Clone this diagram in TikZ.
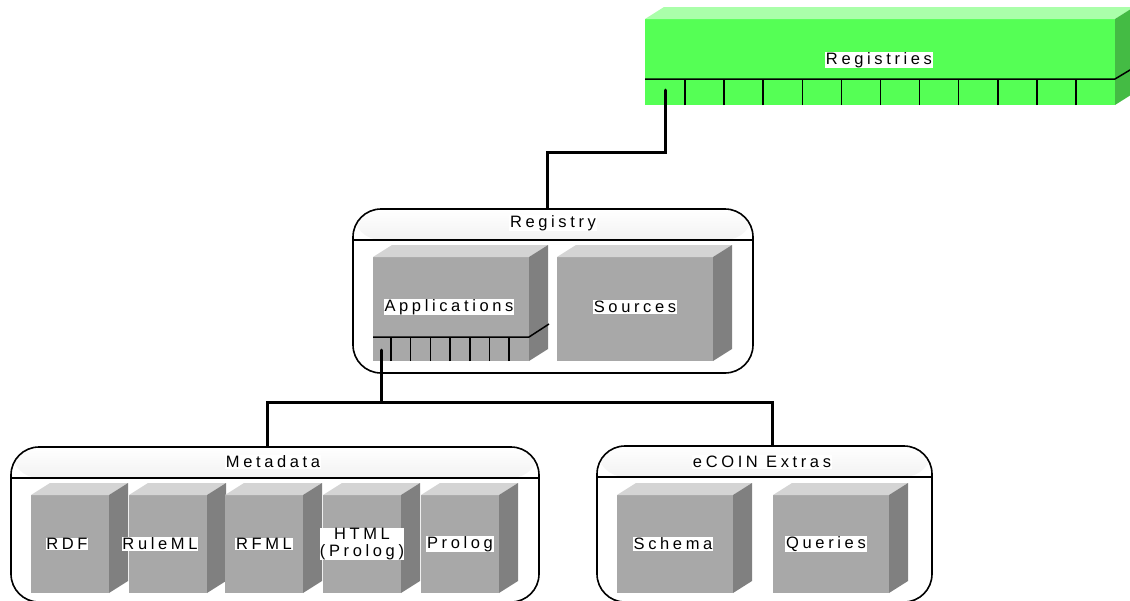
\documentclass[tikz,border=0pt]{standalone}
\usepackage{fontspec}
\setmainfont{Liberation Sans}[LetterSpace=22]
\definecolor{boxfront}{RGB}{168,168,168}
\definecolor{boxtop}{RGB}{212,212,212}
\definecolor{boxside}{RGB}{128,128,128}
\definecolor{regfront}{RGB}{85,255,85}
\definecolor{regtop}{RGB}{170,255,170}
\definecolor{regside}{RGB}{68,187,68}

\newcommand{\solid}[5]{%
  \node[face,fill=#5front,minimum width=#3pt,minimum height=#4pt] (#1) at #2 {};
  \fill[#5top] (#1.north west) -- ++(19,-12) -- ++(#3,0) -- (#1.north east) -- cycle;
  \fill[#5side] (#1.north east) -- ++(19,-12) -- ++(0,#4) -- (#1.south east) -- cycle;
}

\begin{document}
\begin{tikzpicture}[x=1pt,y=-1pt,font=\fontsize{16.5}{17}\selectfont,
    face/.style={anchor=north west,inner sep=0pt,outer sep=0pt},
    tag/.style={fill=white,inner sep=0.8pt,align=center},
    portline/.style={line width=1.5pt},
    link/.style={line width=3pt,line cap=round},
    group/.style={draw,line width=1.6pt,rounded corners=28pt,inner sep=0pt,
      path picture={
        \shade[top color=white,bottom color=black!26]
          (path picture bounding box.north west) rectangle
          ([yshift=-31pt]path picture bounding box.north east);
        \draw[line width=1.6pt]
          ([yshift=-31pt]path picture bounding box.north west) --
          ([yshift=-31pt]path picture bounding box.north east);}}]
  \useasboundingbox (0,0) rectangle (1130,600);

  \solid{registries}{(645,19)}{470}{86}{reg}
  \node[tag] (registries-title) at (879,60) {Registries};
  \draw[portline] ([yshift=26pt]registries.south west) -- ([yshift=26pt]registries.south east) -- ++(20,-12);
  \foreach \i in {0,...,10}
    \draw[portline] ([xshift={40+\i*39.1}]registries.south west) -- ++(0,-26);

  \node[group,minimum width=400pt,minimum height=164pt] (registry) at (553,291) {};
  \node[tag] (registry-title) at (553,223) {Registry};
  \solid{apps}{(373,257)}{156}{104}{box}
  \solid{sources}{(557,257)}{156}{104}{box}
  \node[tag] (apps-label) at (449,307) {Applications};
  \node[tag] (sources-label) at (635,307) {Sources};
  \draw[portline] ([yshift=24pt]apps.south west) -- ([yshift=24pt]apps.south east) -- ++(20,-13);
  \foreach \i in {0,...,6}
    \draw[portline] ([xshift={18+\i*19.7}]apps.south west) -- ++(0,-24);

  \node[group,minimum width=528pt,minimum height=155pt] (metadata) at (275,524.5) {};
  \node[tag] (metadata-title) at (273,462) {Metadata};
  \solid{rdf}{(31,495)}{78}{98}{box}
  \solid{ruleml}{(129,495)}{78}{98}{box}
  \solid{rfml}{(225,495)}{78}{98}{box}
  \solid{html}{(323,495)}{78}{98}{box}
  \solid{prolog}{(421,495)}{78}{98}{box}
  \node[tag] (rdf-label) at ([xshift=-3pt]rdf.center) {RDF};
  \node[tag] (ruleml-label) at ([xshift=-8pt]ruleml.center) {RuleML};
  \node[tag] (rfml-label) at (rfml.center) {RFML};
  \node[tag,inner sep=0.2pt] (html-label) at (html.center) {HTML\\(Prolog)};
  \node[tag] (prolog-label) at (prolog.center) {Prolog};

  \node[group,minimum width=335pt,minimum height=156pt] (extras) at (764.5,524) {};
  \node[tag] (extras-title) at (762,462) {eCOIN Extras};
  \solid{schema}{(617,495)}{116}{98}{box}
  \solid{queries}{(773,495)}{116}{98}{box}
  \node[tag] (schema-label) at ([xshift=-2pt]schema.center) {Schema};
  \node[tag] (queries-label) at ([xshift=-5pt]queries.center) {Queries};

  \coordinate (registries-port) at (665,90);
  \coordinate (registry-bend) at (547,152);
  \draw[link] (registries-port) |- (registry-bend) -- (registry-bend |- registry.north);

  \coordinate (apps-port) at (381,350);
  \coordinate (bus) at (381,402);
  \draw[link] (apps-port) -- (bus);
  \draw[link] ([xshift=-8pt]metadata.north) |- (bus) -| ([xshift=8pt]extras.north);
\end{tikzpicture}
\end{document}
